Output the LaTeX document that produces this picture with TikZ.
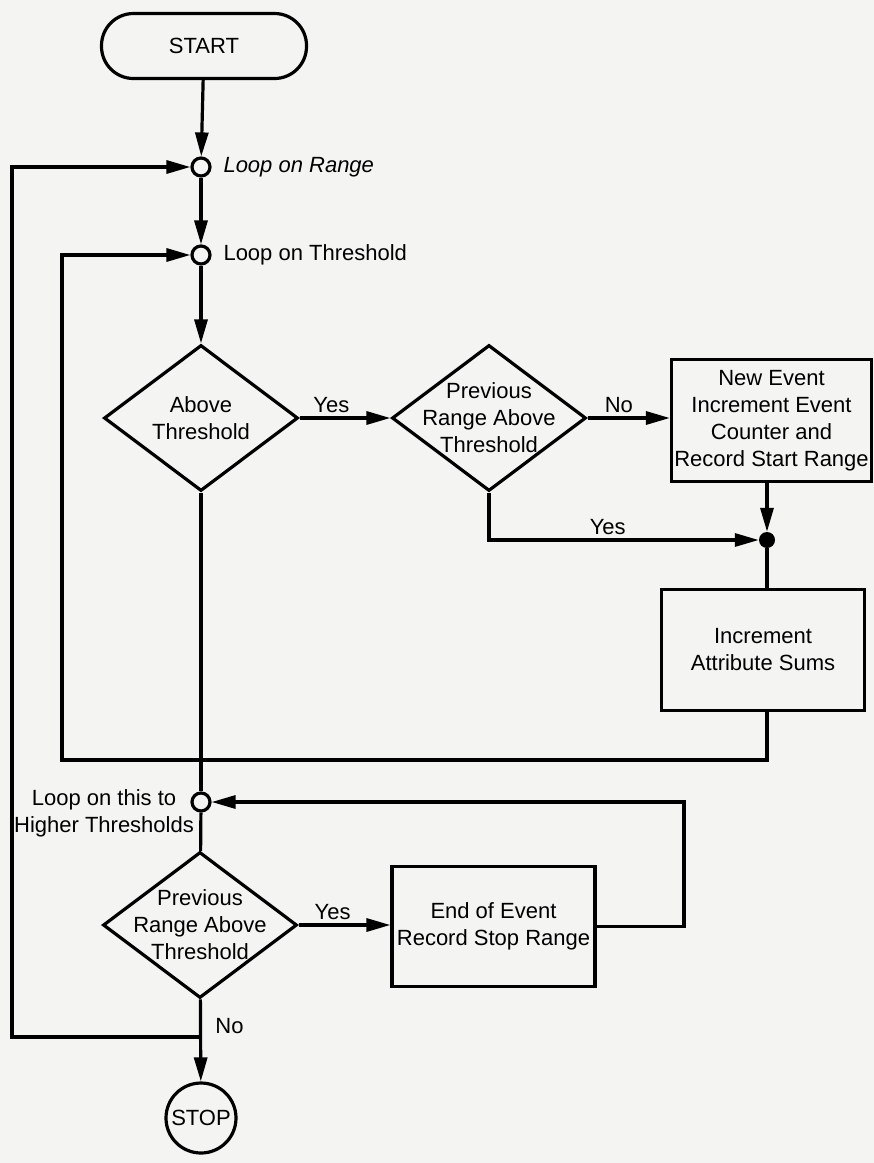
\documentclass[tikz,border=0pt]{standalone}
\usepackage{fontspec}
\setmainfont{Liberation Sans}
\usetikzlibrary{arrows.meta,shapes.geometric}
\definecolor{paper}{RGB}{244,244,242}
\tikzset{
  flow/.style={line width=3.2pt},
  arr/.style={flow,-{Triangle[length=24pt,width=13pt]}},
  term/.style={draw,flow,rounded corners=32pt,minimum width=205pt,minimum height=65pt,inner sep=0pt},
  junc/.style={circle,draw,flow,fill=paper,minimum size=18pt,inner sep=0pt},
  jdot/.style={circle,fill=black,minimum size=16pt,inner sep=0pt},
  decision/.style={diamond,draw,flow,minimum width=194pt,minimum height=146pt,
    inner xsep=-30pt,inner ysep=-15pt,align=center},
  process/.style={draw,flow,align=center,inner sep=0pt},
  stopc/.style={circle,draw,flow,minimum size=70pt,inner sep=0pt},
}
\begin{document}
\begin{tikzpicture}[x=1pt,y=-1pt,font=\fontsize{22}{27}\selectfont]
  \fill[paper] (0,0) rectangle (874,1163);
  \useasboundingbox (0,0) rectangle (874,1163);

  % main column
  \node[term] (start) at (204,46) {START};
  \node[junc] (c1) at (201,167) {};
  \node[junc] (c2) at (201,255) {};
  \node[anchor=west,font=\fontsize{22}{27}\selectfont\itshape] (lr) at (220,167) {Loop on Range};
  \node[anchor=west] (lt) at (220,255) {Loop on Threshold};

  \node[decision] (d1) at (201,418) {Above\\Threshold};
  \node[decision] (d2) at (489,418) {Previous\\Range Above\\Threshold};
  \node[process,minimum width=200pt,minimum height=122pt] (b1) at (771.5,420.5)
    {New Event\\Increment Event\\Counter and\\Record Start Range};
  \node[jdot] (j) at (767,540) {};
  \node[process,minimum width=203pt,minimum height=121pt] (b2) at (763,650)
    {Increment\\Attribute Sums};

  \node[junc] (c3) at (201,802) {};
  \node[align=center] (lh) at (104,813) {Loop on this to\\Higher Thresholds};
  \node[decision] (d3) at (200,925) {Previous\\Range Above\\Threshold};
  \node[process,minimum width=203pt,minimum height=120pt] (b3) at (493.5,926.5)
    {End of Event\\Record Stop Range};
  \node[stopc] (stop) at (201,1118) {STOP};

  % bend points of the loops
  \coordinate (r1) at (12,1037);
  \coordinate (r2) at (62,760);
  \coordinate (r3) at (684,802);

  % connectors
  \draw[arr] (start) -- (c1);
  \draw[arr] (c1) -- (c2);
  \draw[arr] (c2) -- (d1);
  \draw[arr] (d1) -- node[above,pos=0.35] {Yes} (d2);
  \draw[arr] (d2.east) -- node[above,pos=0.38] {No} (d2.east -| b1.west);
  \draw[arr] (j |- b1.south) -- (j);
  \draw[arr] (d2.south) |- node[above,pos=0.72] {Yes} (j);
  \draw[flow] (j) -- (j |- b2.north);
  \draw[arr] (j |- b2.south) |- (r2) |- (c2);
  \draw[flow] (d1) -- (c3);
  \draw[flow] (c3) -- (d3);
  \draw[arr] (d3) -- node[above,pos=0.37] {Yes} (d3 -| b3.west);
  \draw[arr] (b3.east) -| (r3) -- (c3);
  \draw[arr] (d3) -- node[anchor=west,pos=0.33,xshift=10pt] {No} (stop);
  \draw[arr] (d3.south |- r1) -- (r1) |- (c1);
\end{tikzpicture}
\end{document}
